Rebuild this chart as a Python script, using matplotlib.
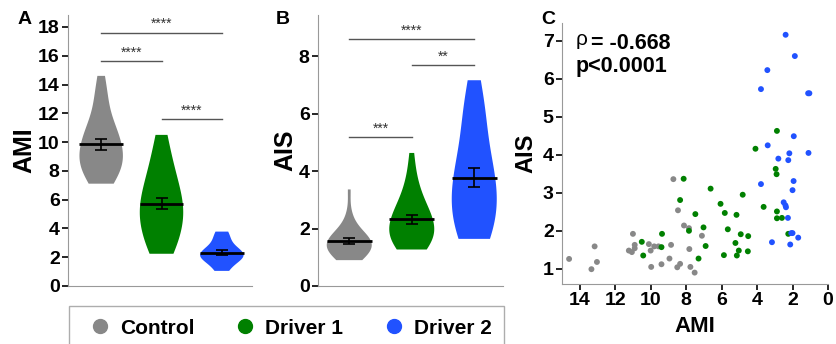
import numpy as np
import matplotlib.pyplot as plt
from matplotlib.lines import Line2D

plt.rcParams['font.family'] = ['Liberation Sans', 'DejaVu Sans']
plt.rcParams['font.weight'] = 'bold'

groups = ['Control', 'Driver 1', 'Driver 2']
colors = ['#888888', '#008000', '#2152ff']

# per-subject values (AMI, AIS)
control_ami = [14.6, 13.34, 13.16, 13.03, 11.0, 11.23, 11.06, 10.9, 10.9, 10.1, 10.0, 9.8, 9.56, 9.97,
               9.39, 8.94, 8.85, 8.72, 8.46, 8.5, 8.34, 8.12, 7.84, 7.82, 7.76, 7.52, 7.11]
control_ais = [1.26, 0.99, 1.59, 1.18, 1.92, 1.48, 1.44, 1.63, 1.54, 1.65, 1.48, 1.59, 1.59, 1.05,
               1.12, 1.27, 1.63, 3.36, 2.54, 1.04, 1.13, 2.14, 2.07, 1.52, 1.05, 0.90, 1.87]
driver1_ami = [10.5, 10.42, 9.36, 9.39, 8.34, 8.14, 7.84, 7.48, 7.3, 7.02, 6.9, 6.62, 6.06, 5.82,
               5.87, 5.65, 5.16, 5.22, 5.14, 5.03, 4.92, 4.81, 4.5, 4.52, 4.09, 3.63, 2.95, 2.9,
               2.88, 2.88, 2.88, 2.6, 2.24]
driver1_ais = [1.71, 1.35, 1.92, 1.57, 2.81, 3.37, 2.0, 2.44, 1.27, 2.09, 1.6, 3.11, 2.71, 2.47,
               1.36, 2.04, 2.42, 1.68, 1.35, 1.48, 1.91, 2.95, 1.86, 1.46, 4.16, 2.63, 3.63, 3.49,
               4.63, 2.51, 2.33, 2.34, 1.92]
driver2_ami = [2.39, 1.87, 3.42, 3.78, 1.12, 1.05, 1.93, 3.4, 2.8, 2.18, 2.24, 1.1, 3.78, 1.94,
               2.0, 2.5, 2.4, 2.37, 2.26, 3.16, 2.07, 2.0, 2.13, 1.68]
driver2_ais = [7.16, 6.6, 6.23, 5.73, 5.62, 5.62, 4.49, 4.25, 3.9, 4.04, 3.86, 4.05, 3.23, 3.31,
               3.07, 2.75, 2.67, 2.62, 2.34, 1.70, 1.94, 1.94, 1.64, 1.82]

ami = [control_ami, driver1_ami, driver2_ami]
ais = [control_ais, driver1_ais, driver2_ais]

# significance brackets: (group a, group b, height, label)
sig_ami = [(0, 2, 17.6, '****'), (0, 1, 15.6, '****'), (1, 2, 11.6, '****')]
sig_ais = [(0, 2, 8.59, '****'), (1, 2, 7.69, '**'), (0, 1, 5.17, '***')]

rho_text = '= -0.668'
p_text = 'p<0.0001'

fig = plt.figure(figsize=(8.36, 3.44), dpi=100)
W, H = 836, 344

def px_axes(l, t, r, b):
    return fig.add_axes([l / W, 1 - b / H, (r - l) / W, (b - t) / H])

def violin_panel(ax, data, sig, ylim, ystep, ylabel, step):
    pos = np.arange(len(data))
    parts = ax.violinplot(data, positions=pos, widths=0.72, showextrema=False,
                          bw_method=0.65)
    for body, c in zip(parts['bodies'], colors):
        body.set_facecolor(c)
        body.set_edgecolor('none')
        body.set_alpha(1)
    for i, d in enumerate(data):
        d = np.asarray(d)
        m = d.mean()
        sem = d.std(ddof=1) / np.sqrt(len(d))
        ax.hlines(m, i - 0.36, i + 0.36, color='black', lw=2, zorder=3)
        ax.errorbar(i, m, yerr=sem, color='black', capsize=4, elinewidth=1.2,
                    capthick=1.2, zorder=4)
    for a, b, h, lab in sig:
        ax.plot([a, b], [h, h], color='#555555', lw=1)
        ax.text((a + b) / 2, h + step * 0.05, lab, ha='center', va='bottom',
                fontsize=10, color='#333333', fontweight='normal')
    ax.set_ylim(*ylim)
    ax.set_yticks(np.arange(0, ylim[1], ystep))
    ax.set_xticks([])
    ax.set_ylabel(ylabel, fontsize=18, fontweight='bold', labelpad=1)
    for s in ['top', 'right']:
        ax.spines[s].set_visible(False)
    for s in ['left', 'bottom']:
        ax.spines[s].set_color('#999999')
    ax.tick_params(axis='y', labelsize=14, length=4, width=1.2, pad=2)

axA = px_axes(68, 15, 252, 286)
axA.set_xlim(-0.55, 2.5)
violin_panel(axA, ami, sig_ami, (0, 18.83), 2, 'AMI', 2)

axB = px_axes(318, 15, 503, 286)
axB.set_xlim(-0.5, 2.46)
violin_panel(axB, ais, sig_ais, (0, 9.43), 2, 'AIS', 1)

axC = px_axes(562, 23, 828, 284)
for x, y, c in zip(ami, ais, colors):
    axC.scatter(x, y, s=18, color=c, edgecolors='none', zorder=3)
axC.set_xlim(15, 0)
axC.set_ylim(0.6, 7.47)
axC.set_xticks(np.arange(14, -1, -2))
axC.set_yticks(np.arange(1, 8))
axC.set_xlabel('AMI', fontsize=16, fontweight='bold', labelpad=5)
axC.set_ylabel('AIS', fontsize=17, fontweight='bold', labelpad=4)
for s in ['top', 'right']:
    axC.spines[s].set_visible(False)
for s in ['left', 'bottom']:
    axC.spines[s].set_color('#999999')
axC.tick_params(labelsize=14, length=4, width=1.2, pad=2)
axC.text(0.05, 0.975, '\u03c1', transform=axC.transAxes, fontsize=15,
         fontweight='normal', va='top', ha='left')
axC.text(0.11, 0.96, rho_text, transform=axC.transAxes, fontsize=15.5,
         fontweight='bold', va='top', ha='left')
axC.text(0.05, 0.875, p_text, transform=axC.transAxes, fontsize=15.5,
         fontweight='bold', va='top', ha='left')

fig.text(25 / W, 1 - 20 / H, 'A', fontsize=14, fontweight='bold', ha='center', va='center')
fig.text(283 / W, 1 - 20 / H, 'B', fontsize=14, fontweight='bold', ha='center', va='center')
fig.text(548 / W, 1 - 20 / H, 'C', fontsize=14, fontweight='bold', ha='center', va='center')

handles = [Line2D([], [], marker='o', ls='none', color=c, markersize=10) for c in colors]
leg = fig.legend(handles, groups, loc='upper left', ncol=3, mode='expand',
                 bbox_to_anchor=(69 / W, -0.1, 435 / W, 0.1 + 1 - 306 / H),
                 fontsize=15, frameon=True, fancybox=False, edgecolor='#999999',
                 handletextpad=0.06, borderpad=0.6, handlelength=1.8,
                 borderaxespad=0)
for t in leg.get_texts():
    t.set_fontweight('bold')

fig.savefig('out.png', dpi=100)
